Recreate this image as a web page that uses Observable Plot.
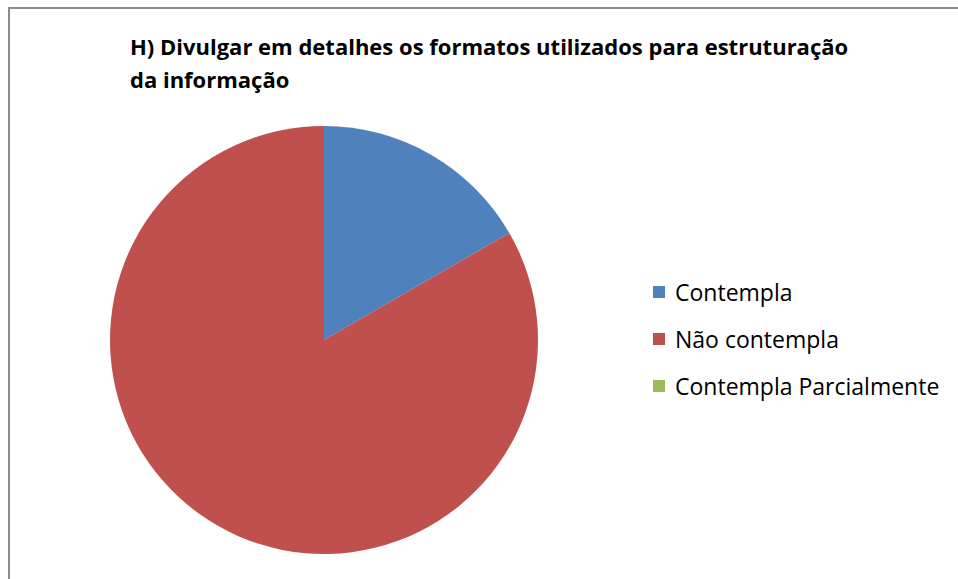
<!DOCTYPE html>
<html>
<head>
<meta charset="utf-8">
<script src="https://cdn.jsdelivr.net/npm/d3@7"></script>
<script src="https://cdn.jsdelivr.net/npm/@observablehq/plot@0.6"></script>
<style>
  html, body { margin: 0; padding: 0; background: #fff; width: 958px; height: 579px; overflow: hidden; }
  #wrap { position: relative; width: 958px; height: 579px; }
  #frame { position: absolute; left: 8px; top: 7px; width: 1200px; height: 1200px; border-left: 2px solid #8c8c8c; border-top: 2px solid #8c8c8c; box-sizing: border-box; }
  #title { position: absolute; left: 130px; top: 30px; font-family: "Open Sans", sans-serif; font-weight: 700; font-size: 22px; line-height: 33px; color: #000; white-space: nowrap; }
  #chart { position: absolute; left: 0; top: 0; }
  .leg { position: absolute; left: 653px; font-family: "Open Sans", sans-serif; font-size: 23px; color: #000; white-space: nowrap; display: flex; align-items: center; }
  .leg span.sw { display: inline-block; width: 12px; height: 12px; margin-right: 10px; }
</style>
</head>
<body>
<div id="wrap">
  <div id="frame"></div>
  <div id="chart"></div>
  <div id="title">H) Divulgar em detalhes os formatos utilizados para estruturação<br>da informação</div>
  <div id="legend"></div>
</div>
<script>
const categories = ["Contempla", "Não contempla", "Contempla Parcialmente"];
const values = [1, 5, 0];
const colors = ["#4F81BD", "#C0504D", "#9BBB59"];

const data = categories.map((c, i) => ({category: c, value: values[i]}));
const colorScale = Plot.scale({color: {type: "ordinal", domain: categories, range: colors}});

const pieRender = (index, scales, vals, dims) => {
  const cx = scales.x(0), cy = scales.y(0);
  const r = scales.x(1) - scales.x(0);
  const arcs = d3.pie().sort(null).value(d => d.value)(data);
  const arc = d3.arc().innerRadius(0).outerRadius(r);
  const g = d3.create("svg:g").attr("transform", `translate(${cx},${cy})`);
  g.selectAll("path").data(arcs).join("path")
    .attr("d", arc)
    .attr("fill", d => colorScale.apply(d.data.category))
    .attr("stroke", "none");
  return g.node();
};

const chart = Plot.plot({
  width: 958,
  height: 579,
  margin: 0,
  x: {domain: [-1, 1], range: [110, 538], axis: null},
  y: {domain: [1, -1], range: [126, 554], axis: null},
  marks: [pieRender]
});
document.getElementById("chart").appendChild(chart);

const legend = document.getElementById("legend");
const legendY = [292, 339, 386];
categories.forEach((c, i) => {
  const row = document.createElement("div");
  row.className = "leg";
  row.style.top = (legendY[i] - 16) + "px";
  row.style.height = "32px";
  const sw = document.createElement("span");
  sw.className = "sw";
  sw.style.background = colorScale.apply(c);
  row.appendChild(sw);
  row.appendChild(document.createTextNode(c));
  legend.appendChild(row);
});
</script>
</body>
</html>
